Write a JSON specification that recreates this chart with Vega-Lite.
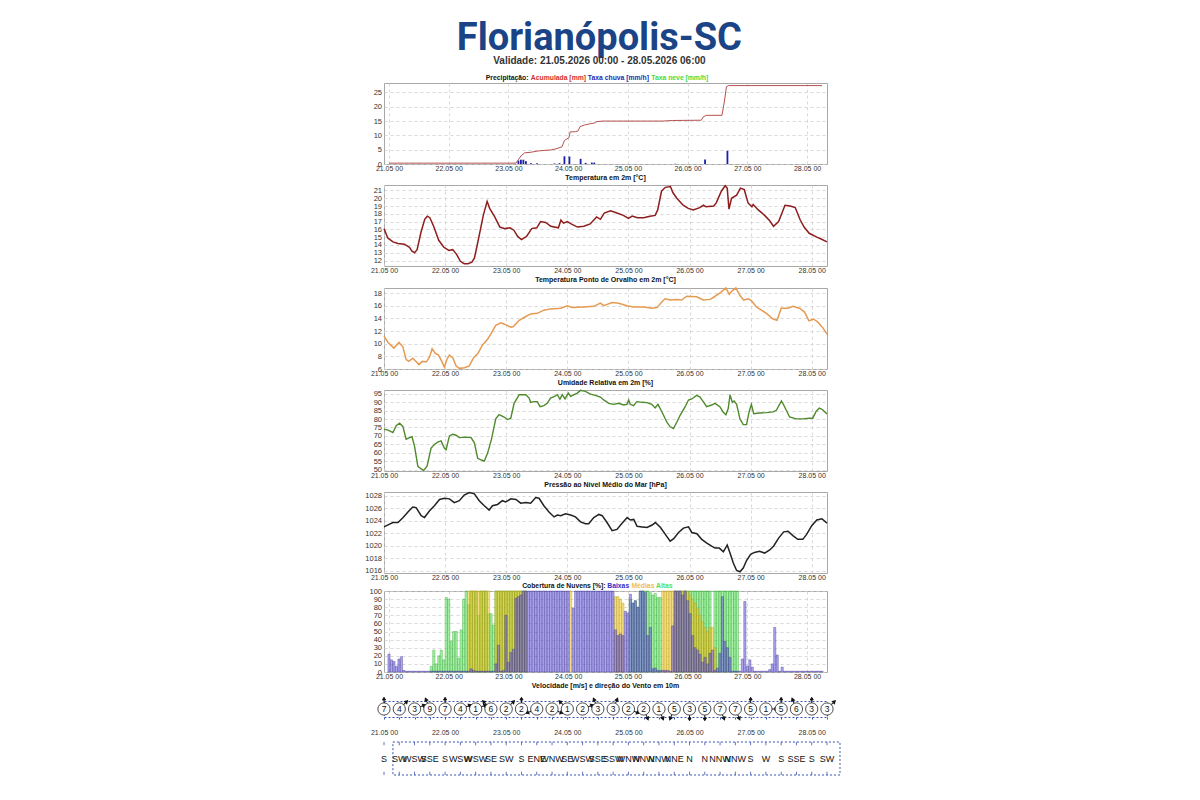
{
  "$schema": "https://vega.github.io/schema/vega-lite/v6.json",
  "background": "white",
  "padding": {"left": 364, "top": 20, "right": 5, "bottom": 5},
  "title": {"text": "Florianópolis-SC", "subtitle": "Validade: 21.05.2026 00:00 - 28.05.2026 06:00", "font": "Roboto", "fontSize": 38, "fontWeight": "bold", "color": "#1b4487", "anchor": "middle", "dx": -3, "subtitleFont": "Liberation Sans", "subtitleFontSize": 10, "subtitleFontWeight": "bold", "subtitleColor": "#333333", "subtitlePadding": -2.5, "offset": 9},
  "spacing": 1,
  "vconcat": [
    {
      "width": 443, "height": 81,
      "encoding": {
        "x": {"field": "h", "type": "quantitative", "title": null, "scale": {"domain": [0, 174], "nice": false, "zero": false}, "axis": {"values": [0, 24, 48, 72, 96, 120, 144, 168], "labelExpr": "(21 + datum.value/24) + '.05 00'", "labelFlush": false, "labelOverlap": false, "grid": true, "labelPadding": 0}},
        "y": {"field": "v", "type": "quantitative", "title": null, "scale": {"domain": [0, 28.3], "nice": false}, "axis": {"values": [0, 5, 10, 15, 20, 25], "labelOverlap": false}}
      },
      "layer": [
        {"data": {"name": "rain"}, "mark": {"type": "bar", "color": "#1a1fa8", "size": 1.8}},
        {"data": {"name": "acc"}, "mark": {"type": "line", "color": "#b85050", "strokeWidth": 1}},
        {"data": {"name": "acc"}, "transform": [{"filter": "datum.h == 0"}], "mark": {"type": "text", "align": "left", "baseline": "middle", "fontSize": 6.8, "fontWeight": "bold", "color": "#111111", "clip": false}, "encoding": {"x": {"datum": 38.9}, "y": {"datum": 30.0}, "text": {"value": "Precipitação:"}}},
        {"data": {"name": "acc"}, "transform": [{"filter": "datum.h == 0"}], "mark": {"type": "text", "align": "left", "baseline": "middle", "fontSize": 6.8, "fontWeight": "bold", "color": "#d03030", "clip": false}, "encoding": {"x": {"datum": 57.0}, "y": {"datum": 30.0}, "text": {"value": "Acumulada [mm]"}}},
        {"data": {"name": "acc"}, "transform": [{"filter": "datum.h == 0"}], "mark": {"type": "text", "align": "left", "baseline": "middle", "fontSize": 6.8, "fontWeight": "bold", "color": "#2a2ab0", "clip": false}, "encoding": {"x": {"datum": 79.9}, "y": {"datum": 30.0}, "text": {"value": "Taxa chuva [mm/h]"}}},
        {"data": {"name": "acc"}, "transform": [{"filter": "datum.h == 0"}], "mark": {"type": "text", "align": "left", "baseline": "middle", "fontSize": 6.8, "fontWeight": "bold", "color": "#44dd44", "clip": false}, "encoding": {"x": {"datum": 105.4}, "y": {"datum": 30.0}, "text": {"value": "Taxa neve [mm/h]"}}}
      ]
    },
    {
      "width": 443, "height": 81,
      "title": {"text": "Temperatura em 2m [°C]"},
      "data": {"name": "temp"},
      "mark": {"type": "line", "color": "#8e1d1d", "strokeWidth": 1.5},
      "encoding": {
        "x": {"field": "h", "type": "quantitative", "title": null, "scale": {"domain": [0, 174], "nice": false, "zero": false}, "axis": {"values": [0, 24, 48, 72, 96, 120, 144, 168], "labelExpr": "(21 + datum.value/24) + '.05 00'", "labelFlush": false, "labelOverlap": false, "grid": true, "labelPadding": 0}},
        "y": {"field": "v", "type": "quantitative", "title": null, "scale": {"domain": [11.3, 21.7], "nice": false, "zero": false}, "axis": {"values": [12, 13, 14, 15, 16, 17, 18, 19, 20, 21], "labelOverlap": false}}
      }
    },
    {
      "width": 443, "height": 81,
      "title": {"text": "Temperatura Ponto de Orvalho em 2m [°C]"},
      "data": {"name": "dew"},
      "mark": {"type": "line", "color": "#e69a52", "strokeWidth": 1.5},
      "encoding": {
        "x": {"field": "h", "type": "quantitative", "title": null, "scale": {"domain": [0, 174], "nice": false, "zero": false}, "axis": {"values": [0, 24, 48, 72, 96, 120, 144, 168], "labelExpr": "(21 + datum.value/24) + '.05 00'", "labelFlush": false, "labelOverlap": false, "grid": true, "labelPadding": 0}},
        "y": {"field": "v", "type": "quantitative", "title": null, "scale": {"domain": [6, 18.8], "nice": false, "zero": false}, "axis": {"values": [6, 8, 10, 12, 14, 16, 18], "labelOverlap": false}}
      }
    },
    {
      "width": 443, "height": 81,
      "title": {"text": "Umidade Relativa em 2m [%]"},
      "data": {"name": "rh"},
      "mark": {"type": "line", "color": "#4e8a2c", "strokeWidth": 1.4},
      "encoding": {
        "x": {"field": "h", "type": "quantitative", "title": null, "scale": {"domain": [0, 174], "nice": false, "zero": false}, "axis": {"values": [0, 24, 48, 72, 96, 120, 144, 168], "labelExpr": "(21 + datum.value/24) + '.05 00'", "labelFlush": false, "labelOverlap": false, "grid": true, "labelPadding": 0}},
        "y": {"field": "v", "type": "quantitative", "title": null, "scale": {"domain": [49.2, 97.2], "nice": false, "zero": false}, "axis": {"values": [50, 55, 60, 65, 70, 75, 80, 85, 90, 95], "labelOverlap": false}}
      }
    },
    {
      "width": 443, "height": 81,
      "title": {"text": "Pressão ao Nível Médio do Mar [hPa]"},
      "data": {"name": "pres"},
      "mark": {"type": "line", "color": "#222222", "strokeWidth": 1.5},
      "encoding": {
        "x": {"field": "h", "type": "quantitative", "title": null, "scale": {"domain": [0, 174], "nice": false, "zero": false}, "axis": {"values": [0, 24, 48, 72, 96, 120, 144, 168], "labelExpr": "(21 + datum.value/24) + '.05 00'", "labelFlush": false, "labelOverlap": false, "grid": true, "labelPadding": 0}},
        "y": {"field": "v", "type": "quantitative", "title": null, "scale": {"domain": [1015.6, 1028.6], "nice": false, "zero": false}, "axis": {"values": [1016, 1018, 1020, 1022, 1024, 1026, 1028], "format": "d", "labelOverlap": false}}
      }
    },
    {
      "width": 443, "height": 81,
      "encoding": {
        "x": {"field": "h", "type": "quantitative", "title": null, "scale": {"domain": [0, 174], "nice": false, "zero": false}, "axis": {"values": [0, 24, 48, 72, 96, 120, 144, 168], "labelExpr": "(21 + datum.value/24) + '.05 00'", "labelFlush": false, "labelOverlap": false, "grid": true, "labelPadding": 0}},
        "y": {"field": "v", "type": "quantitative", "title": null, "scale": {"domain": [0, 100], "nice": false}, "axis": {"values": [0, 10, 20, 30, 40, 50, 60, 70, 80, 90, 100], "labelOverlap": false}}
      },
      "layer": [
        {"data": {"name": "cloud"}, "transform": [{"fold": ["H", "M", "L"], "as": ["k", "v"]}, {"filter": "datum.k == 'H' && datum.v > 0"}], "mark": {"type": "bar", "size": 2.2, "fill": "#3ee03e", "fillOpacity": 0.45, "stroke": "#2fa82f", "strokeOpacity": 0.8, "strokeWidth": 0.5}},
        {"data": {"name": "cloud"}, "transform": [{"fold": ["H", "M", "L"], "as": ["k", "v"]}, {"filter": "datum.k == 'M' && datum.v > 0"}], "mark": {"type": "bar", "size": 2.2, "fill": "#f0c420", "fillOpacity": 0.55, "stroke": "#b89a10", "strokeOpacity": 0.8, "strokeWidth": 0.5}},
        {"data": {"name": "cloud"}, "transform": [{"fold": ["H", "M", "L"], "as": ["k", "v"]}, {"filter": "datum.k == 'L' && datum.v > 0"}], "mark": {"type": "bar", "size": 2.2, "fill": "#6a5ae0", "fillOpacity": 0.55, "stroke": "#3b3490", "strokeOpacity": 0.75, "strokeWidth": 0.5}},
        {"data": {"name": "acc"}, "transform": [{"filter": "datum.h == 0"}], "mark": {"type": "text", "align": "left", "baseline": "middle", "fontSize": 6.8, "fontWeight": "bold", "color": "#111111", "clip": false}, "encoding": {"x": {"datum": 53.5}, "y": {"datum": 106}, "text": {"value": "Cobertura de Nuvens [%]:"}}},
        {"data": {"name": "acc"}, "transform": [{"filter": "datum.h == 0"}], "mark": {"type": "text", "align": "left", "baseline": "middle", "fontSize": 6.8, "fontWeight": "bold", "color": "#3030c8", "clip": false}, "encoding": {"x": {"datum": 87.7}, "y": {"datum": 106}, "text": {"value": "Baixas"}}},
        {"data": {"name": "acc"}, "transform": [{"filter": "datum.h == 0"}], "mark": {"type": "text", "align": "left", "baseline": "middle", "fontSize": 6.8, "fontWeight": "bold", "color": "#f0c040", "clip": false}, "encoding": {"x": {"datum": 97.4}, "y": {"datum": 106}, "text": {"value": "Médias"}}},
        {"data": {"name": "acc"}, "transform": [{"filter": "datum.h == 0"}], "mark": {"type": "text", "align": "left", "baseline": "middle", "fontSize": 6.8, "fontWeight": "bold", "color": "#50e050", "clip": false}, "encoding": {"x": {"datum": 107.3}, "y": {"datum": 106}, "text": {"value": "Altas"}}}
      ]
    },
    {
      "width": 443, "height": 16,
      "title": {"text": "Velocidade [m/s] e direção do Vento em 10m", "offset": 6},
      "view": {"stroke": "#3a55b0", "strokeDash": [2, 2], "strokeWidth": 1},
      "data": {"name": "wind"},
      "encoding": {
        "x": {"field": "h", "type": "quantitative", "title": null, "scale": {"domain": [0, 174], "nice": false, "zero": false}, "axis": {"values": [0, 6, 12, 18, 24, 30, 36, 42, 48, 54, 60, 66, 72, 78, 84, 90, 96, 102, 108, 114, 120, 126, 132, 138, 144, 150, 156, 162, 168, 174], "labelExpr": "datum.value % 24 == 0 ? (21 + datum.value/24) + '.05 00' : ''", "labelFlush": false, "labelOverlap": false, "grid": false, "ticks": true, "tickSize": 2, "tickColor": "#3a55b0", "labelPadding": 9.5}}
      },
      "layer": [
        {"mark": {"type": "point", "shape": "M0,-0.55L0,-0.9M-0.14,-0.82L0,-1.06L0.14,-0.82Z", "size": 484, "filled": true, "fill": "#111111", "stroke": "#111111", "strokeWidth": 1, "opacity": 1, "clip": false}, "encoding": {"angle": {"field": "deg", "type": "quantitative", "scale": {"domain": [0, 360], "range": [180, 540]}, "legend": null}}},
        {"mark": {"type": "point", "shape": "circle", "size": 150, "filled": true, "fill": "white", "stroke": "#222222", "strokeWidth": 0.8, "opacity": 1, "clip": false}},
        {"mark": {"type": "text", "fontSize": 8.5, "color": "#111111", "baseline": "middle"}, "encoding": {"text": {"field": "s", "type": "nominal"}}}
      ]
    },
    {
      "width": 443, "height": 33,
      "title": {"text": " ", "fontSize": 4, "offset": 0.5},
      "view": {"stroke": null},
      "data": {"name": "wind"},
      "encoding": {
        "x": {"field": "h", "type": "quantitative", "title": null, "scale": {"domain": [0, 174], "nice": false, "zero": false}, "axis": null}
      },
      "layer": [
        {"transform": [{"filter": "datum.h == 0"}], "mark": {"type": "rect", "fill": null, "fillOpacity": 0, "stroke": "#3a55b0", "strokeDash": [2, 2], "strokeWidth": 1, "clip": false}, "encoding": {"x": {"datum": 3.5}, "x2": {"datum": 179.1}, "y": {"datum": 0, "type": "quantitative", "scale": {"domain": [0, 1], "nice": false}, "axis": null}, "y2": {"datum": 1}}},
        {"mark": {"type": "rule", "color": "#3a55b0", "strokeWidth": 0.8}, "encoding": {"y": {"datum": 0.9, "type": "quantitative", "axis": null}, "y2": {"datum": 1}}},
        {"mark": {"type": "rule", "color": "#3a55b0", "strokeWidth": 0.8}, "encoding": {"y": {"datum": 0, "type": "quantitative", "axis": null}, "y2": {"datum": 0.1}}},
        {"mark": {"type": "text", "fontSize": 9, "color": "#111111", "baseline": "middle", "clip": false}, "encoding": {"y": {"datum": 0.5, "type": "quantitative", "axis": null}, "text": {"field": "d", "type": "nominal"}}}
      ]
    }
  ],
  "datasets": {
    "rain": [{"h":52,"v":1.2},{"h":53,"v":1.5},{"h":54,"v":1.5},{"h":55,"v":1.0},{"h":57,"v":0.3},{"h":59.5,"v":0.3},{"h":66.5,"v":0.2},{"h":68.5,"v":0.3},{"h":70.5,"v":2.7},{"h":72.5,"v":2.6},{"h":77,"v":1.8},{"h":79,"v":0.4},{"h":81.5,"v":0.5},{"h":82.5,"v":0.5},{"h":115,"v":0.1},{"h":127,"v":1.6},{"h":136,"v":4.6}],
    "acc": [{"h":0,"v":0.3},{"h":51,"v":0.3},{"h":52,"v":1.5},{"h":53,"v":2.8},{"h":54.5,"v":3.9},{"h":57,"v":4.1},{"h":59.5,"v":4.5},{"h":61.5,"v":4.7},{"h":65,"v":4.9},{"h":67.5,"v":5.4},{"h":69.5,"v":6.0},{"h":70.5,"v":8.2},{"h":71.5,"v":8.8},{"h":72.3,"v":9.2},{"h":72.8,"v":11.2},{"h":75,"v":11.3},{"h":76,"v":11.6},{"h":76.8,"v":13.1},{"h":78.5,"v":13.6},{"h":81,"v":14.1},{"h":82.5,"v":14.3},{"h":83.5,"v":14.8},{"h":86,"v":15.0},{"h":110,"v":15.0},{"h":114,"v":15.2},{"h":125.5,"v":15.3},{"h":126.3,"v":16.5},{"h":127.5,"v":17.0},{"h":133.8,"v":17.0},{"h":134.8,"v":22.0},{"h":135.6,"v":27.0},{"h":136.5,"v":27.4},{"h":174,"v":27.4}],
    "temp": [{"h":0,"v":16.1},{"h":1.5,"v":14.9},{"h":3.5,"v":14.4},{"h":5.5,"v":14.2},{"h":8,"v":14.1},{"h":10,"v":13.7},{"h":11,"v":13.2},{"h":12,"v":13.0},{"h":13,"v":13.4},{"h":14.5,"v":15.6},{"h":16,"v":17.3},{"h":17,"v":17.7},{"h":18,"v":17.5},{"h":19.5,"v":16.4},{"h":21.5,"v":14.6},{"h":23.5,"v":13.7},{"h":25.5,"v":13.3},{"h":27,"v":13.4},{"h":28.5,"v":12.8},{"h":30,"v":11.9},{"h":31.5,"v":11.6},{"h":33,"v":11.6},{"h":34.5,"v":11.8},{"h":35.5,"v":12.3},{"h":36.5,"v":13.8},{"h":38,"v":16.2},{"h":39,"v":17.8},{"h":40.5,"v":19.6},{"h":41.5,"v":18.7},{"h":43.5,"v":17.6},{"h":45.5,"v":16.3},{"h":47.5,"v":16.1},{"h":49.5,"v":16.2},{"h":51,"v":15.9},{"h":52.5,"v":15.1},{"h":54,"v":14.7},{"h":56,"v":15.1},{"h":58,"v":16.1},{"h":60,"v":16.2},{"h":61.5,"v":17.0},{"h":63.5,"v":16.9},{"h":65.5,"v":16.4},{"h":68.5,"v":16.2},{"h":69.5,"v":17.2},{"h":70.5,"v":16.8},{"h":72,"v":17.0},{"h":73.5,"v":16.7},{"h":76,"v":16.3},{"h":78.5,"v":16.4},{"h":81,"v":16.7},{"h":83.5,"v":17.6},{"h":85,"v":17.3},{"h":86.5,"v":18.1},{"h":89,"v":18.4},{"h":91.5,"v":18.1},{"h":94,"v":17.8},{"h":96,"v":17.4},{"h":97.5,"v":17.7},{"h":99.5,"v":17.5},{"h":102,"v":17.5},{"h":104.5,"v":17.7},{"h":106.5,"v":17.8},{"h":107.5,"v":18.5},{"h":109,"v":20.9},{"h":110.5,"v":21.4},{"h":112.5,"v":21.5},{"h":113.5,"v":20.7},{"h":115,"v":20.0},{"h":117.5,"v":19.1},{"h":119.5,"v":18.7},{"h":121.5,"v":18.5},{"h":124,"v":18.8},{"h":125.5,"v":19.1},{"h":126.5,"v":18.9},{"h":129.5,"v":19.0},{"h":130.5,"v":19.4},{"h":132.5,"v":20.9},{"h":134,"v":21.6},{"h":134.8,"v":21.3},{"h":135.5,"v":18.6},{"h":136.5,"v":20.0},{"h":138.5,"v":20.4},{"h":140,"v":21.3},{"h":141.5,"v":21.1},{"h":143,"v":19.4},{"h":144.5,"v":18.9},{"h":145,"v":19.2},{"h":147,"v":18.5},{"h":149.5,"v":17.8},{"h":151.5,"v":17.1},{"h":153,"v":16.4},{"h":155,"v":17.0},{"h":157.5,"v":19.1},{"h":159.5,"v":19.0},{"h":161.5,"v":18.8},{"h":163.5,"v":17.2},{"h":165,"v":16.3},{"h":167,"v":15.5},{"h":170,"v":15.0},{"h":171.5,"v":14.8},{"h":174,"v":14.4}],
    "dew": [{"h":0,"v":11.2},{"h":1.6,"v":10.2},{"h":3.9,"v":9.3},{"h":5.9,"v":10.2},{"h":7.4,"v":9.5},{"h":8.7,"v":7.5},{"h":9.8,"v":7.2},{"h":11.3,"v":7.7},{"h":12.6,"v":7.2},{"h":13.7,"v":6.7},{"h":15,"v":7.2},{"h":16.6,"v":7.1},{"h":17.9,"v":7.9},{"h":18.9,"v":9.2},{"h":20.1,"v":8.5},{"h":21.4,"v":8.2},{"h":22.7,"v":7.2},{"h":23.7,"v":6.3},{"h":24.8,"v":7.6},{"h":25.7,"v":8.2},{"h":27,"v":7.8},{"h":28.3,"v":6.5},{"h":29.6,"v":6.1},{"h":31.6,"v":6.2},{"h":33.5,"v":6.5},{"h":35.2,"v":7.8},{"h":36.8,"v":8.4},{"h":38.7,"v":9.8},{"h":40.7,"v":10.7},{"h":42.2,"v":11.7},{"h":43.9,"v":12.9},{"h":45.9,"v":13.3},{"h":47.8,"v":13.0},{"h":49.8,"v":12.6},{"h":50.8,"v":12.7},{"h":53.1,"v":13.7},{"h":55.7,"v":14.3},{"h":57.6,"v":14.7},{"h":60.2,"v":14.8},{"h":62.8,"v":15.3},{"h":65.4,"v":15.5},{"h":69.4,"v":15.6},{"h":72,"v":16.0},{"h":73.9,"v":15.7},{"h":78.5,"v":15.8},{"h":82.4,"v":15.9},{"h":85,"v":16.4},{"h":86.3,"v":16.0},{"h":89.6,"v":16.5},{"h":92.2,"v":16.4},{"h":95.4,"v":16.0},{"h":98,"v":15.8},{"h":102,"v":15.8},{"h":105.2,"v":15.6},{"h":107.2,"v":15.7},{"h":109.1,"v":16.6},{"h":110.4,"v":17.1},{"h":112.4,"v":16.9},{"h":115,"v":17.0},{"h":116.9,"v":16.9},{"h":118.9,"v":17.5},{"h":122.8,"v":17.4},{"h":125.4,"v":16.9},{"h":128,"v":17.0},{"h":129.3,"v":17.3},{"h":131.9,"v":18.0},{"h":134.3,"v":18.8},{"h":135.6,"v":17.8},{"h":136.9,"v":18.4},{"h":138.2,"v":18.8},{"h":139.8,"v":17.6},{"h":141.3,"v":16.9},{"h":143,"v":17.1},{"h":144.3,"v":16.8},{"h":146.3,"v":15.8},{"h":150.2,"v":14.8},{"h":152.8,"v":13.9},{"h":154.4,"v":13.7},{"h":156,"v":15.6},{"h":158.7,"v":15.6},{"h":160.6,"v":15.9},{"h":163.2,"v":15.6},{"h":165.2,"v":15.0},{"h":166.9,"v":13.6},{"h":168.7,"v":13.9},{"h":170.4,"v":13.4},{"h":172.4,"v":12.5},{"h":174,"v":11.5}],
    "rh": [{"h":0,"v":74.0},{"h":1.6,"v":73.4},{"h":3.5,"v":72},{"h":4.8,"v":76},{"h":6.1,"v":77.5},{"h":7.4,"v":75.6},{"h":8.7,"v":68},{"h":10,"v":69},{"h":11,"v":69.5},{"h":12,"v":63.8},{"h":13.3,"v":52},{"h":14.6,"v":50.4},{"h":15.6,"v":49.6},{"h":16.9,"v":52},{"h":18.5,"v":62.8},{"h":19.8,"v":64.9},{"h":21.1,"v":66.3},{"h":22.4,"v":67},{"h":23.7,"v":62.8},{"h":24.4,"v":61.8},{"h":25.7,"v":70},{"h":27,"v":71},{"h":28.3,"v":70.4},{"h":29.6,"v":69},{"h":32.2,"v":69.3},{"h":34.2,"v":69},{"h":35.5,"v":65.9},{"h":36.8,"v":56.7},{"h":38.3,"v":55.7},{"h":39.4,"v":55.1},{"h":40.7,"v":59.8},{"h":42.2,"v":67.9},{"h":43.9,"v":80.1},{"h":45.2,"v":82.6},{"h":47.2,"v":81.2},{"h":48.5,"v":79.7},{"h":49.8,"v":80.5},{"h":51.1,"v":89.3},{"h":53.1,"v":94.4},{"h":55.7,"v":94.4},{"h":57,"v":92.4},{"h":57.6,"v":89.9},{"h":58.9,"v":90.3},{"h":60.2,"v":90.3},{"h":61.3,"v":87.3},{"h":62.8,"v":87.9},{"h":64.1,"v":89.3},{"h":65.4,"v":92.4},{"h":67,"v":93.4},{"h":68.1,"v":94.4},{"h":69.1,"v":91.7},{"h":70,"v":94.4},{"h":71.1,"v":91.9},{"h":72.4,"v":95.4},{"h":73.3,"v":93.4},{"h":75.9,"v":95.4},{"h":77.2,"v":97},{"h":79.1,"v":96.4},{"h":81.1,"v":94.8},{"h":83,"v":94},{"h":85,"v":93},{"h":86.3,"v":91.3},{"h":88.3,"v":89.3},{"h":90.2,"v":88.7},{"h":92.2,"v":89.3},{"h":94.1,"v":88.3},{"h":95.4,"v":88.7},{"h":96.1,"v":91.3},{"h":96.7,"v":88.7},{"h":98,"v":87.9},{"h":99.3,"v":90.3},{"h":101.3,"v":89.9},{"h":103.3,"v":89.7},{"h":105.2,"v":88.7},{"h":106.5,"v":86.6},{"h":107.6,"v":88.7},{"h":108.5,"v":86.2},{"h":109.8,"v":82.2},{"h":111.1,"v":78.1},{"h":112.4,"v":75.4},{"h":113.7,"v":74.4},{"h":115,"v":78.1},{"h":116.3,"v":82.2},{"h":118.3,"v":87.3},{"h":119.6,"v":91.3},{"h":120.9,"v":91.9},{"h":122.8,"v":94},{"h":124.1,"v":93},{"h":125.4,"v":90.3},{"h":126.7,"v":87.3},{"h":128.7,"v":88.3},{"h":130,"v":89.3},{"h":131.9,"v":87.3},{"h":133.2,"v":84.2},{"h":134.3,"v":82.6},{"h":135.2,"v":86.2},{"h":135.9,"v":94.4},{"h":136.8,"v":89.9},{"h":137.5,"v":90.7},{"h":138.5,"v":88.7},{"h":139.8,"v":80.1},{"h":141.1,"v":76.7},{"h":142.4,"v":76.7},{"h":143.4,"v":84.2},{"h":144.3,"v":88.7},{"h":145.2,"v":83.2},{"h":147.6,"v":83.6},{"h":150.2,"v":83.8},{"h":152.8,"v":84.2},{"h":154.1,"v":85.2},{"h":156.1,"v":90.7},{"h":157,"v":88.3},{"h":159.3,"v":81.2},{"h":161.9,"v":80.1},{"h":164.5,"v":80.1},{"h":167.1,"v":80.5},{"h":168.4,"v":80.5},{"h":169.7,"v":84.5},{"h":171,"v":86.5},{"h":172.3,"v":85.5},{"h":174,"v":83}],
    "pres": [{"h":0,"v":1023.0},{"h":2,"v":1023.4},{"h":3.5,"v":1023.7},{"h":5.5,"v":1023.7},{"h":7.5,"v":1024.5},{"h":9.4,"v":1025.4},{"h":11.3,"v":1026.2},{"h":12.6,"v":1026.1},{"h":14.6,"v":1024.8},{"h":15.9,"v":1024.5},{"h":17.9,"v":1025.6},{"h":19.8,"v":1026.4},{"h":21.8,"v":1027.4},{"h":23.7,"v":1027.6},{"h":25.7,"v":1027.5},{"h":27.6,"v":1026.9},{"h":29.6,"v":1027.2},{"h":31.5,"v":1028.1},{"h":33.5,"v":1028.5},{"h":35.5,"v":1028.3},{"h":37.4,"v":1027.2},{"h":39.4,"v":1026.4},{"h":41.3,"v":1025.7},{"h":42.6,"v":1026.4},{"h":44.6,"v":1026.6},{"h":46.5,"v":1027.2},{"h":47.8,"v":1027.0},{"h":49.8,"v":1027.5},{"h":51.8,"v":1027.4},{"h":53.7,"v":1026.8},{"h":55.7,"v":1026.9},{"h":57.6,"v":1026.8},{"h":59.6,"v":1027.7},{"h":60.9,"v":1027.6},{"h":62.8,"v":1026.4},{"h":64.8,"v":1025.4},{"h":66.8,"v":1024.6},{"h":68.1,"v":1024.9},{"h":69.4,"v":1024.8},{"h":71.3,"v":1025.1},{"h":73.3,"v":1024.9},{"h":75.2,"v":1024.6},{"h":77.2,"v":1023.8},{"h":79.1,"v":1023.5},{"h":80.4,"v":1023.5},{"h":82.4,"v":1024.5},{"h":84.4,"v":1025.0},{"h":85.7,"v":1024.8},{"h":87.6,"v":1023.7},{"h":89.6,"v":1022.4},{"h":91.5,"v":1022.6},{"h":93.5,"v":1023.6},{"h":95.5,"v":1024.5},{"h":96.8,"v":1024.1},{"h":98.1,"v":1024.2},{"h":99.4,"v":1023.1},{"h":101.4,"v":1023.0},{"h":103.3,"v":1022.9},{"h":105.3,"v":1023.3},{"h":106.6,"v":1023.7},{"h":108.6,"v":1022.9},{"h":110.5,"v":1021.8},{"h":112.4,"v":1020.7},{"h":113.8,"v":1021.1},{"h":115.7,"v":1022.1},{"h":117.6,"v":1022.8},{"h":119.6,"v":1023.0},{"h":120.9,"v":1022.1},{"h":122.9,"v":1021.9},{"h":124.8,"v":1021.0},{"h":126.8,"v":1020.4},{"h":128.7,"v":1019.9},{"h":130,"v":1019.6},{"h":131.7,"v":1019.6},{"h":133.3,"v":1019.0},{"h":134.8,"v":1020.1},{"h":135.9,"v":1018.8},{"h":137.2,"v":1017.2},{"h":138.5,"v":1016.0},{"h":139.8,"v":1015.8},{"h":141.1,"v":1016.4},{"h":142.4,"v":1017.6},{"h":144,"v":1018.6},{"h":145.5,"v":1018.9},{"h":147.5,"v":1019.1},{"h":149.5,"v":1018.8},{"h":151.5,"v":1019.3},{"h":153,"v":1019.9},{"h":155,"v":1021.2},{"h":157,"v":1022.2},{"h":158.7,"v":1022.3},{"h":160.6,"v":1021.6},{"h":162.5,"v":1021.0},{"h":164.5,"v":1021.0},{"h":166,"v":1021.8},{"h":168,"v":1023.2},{"h":170,"v":1024.1},{"h":172,"v":1024.3},{"h":174,"v":1023.6}],
    "cloud": [
      {"h":0,"L":22,"M":0,"H":0},{"h":1,"L":15,"M":0,"H":0},{"h":2,"L":13,"M":0,"H":0},{"h":3,"L":7,"M":0,"H":0},{"h":4,"L":16,"M":0,"H":0},{"h":5,"L":19,"M":0,"H":0},{"h":6,"L":2,"M":0,"H":0},{"h":7,"L":1,"M":0,"H":0},{"h":8,"L":1,"M":0,"H":0},{"h":9,"L":1,"M":0,"H":0},
      {"h":10,"L":1,"M":0,"H":0},{"h":11,"L":1,"M":0,"H":0},{"h":12,"L":1,"M":0,"H":0},{"h":13,"L":1,"M":0,"H":0},{"h":14,"L":1,"M":0,"H":0},{"h":15,"L":1,"M":0,"H":0},{"h":16,"L":1,"M":0,"H":0},{"h":17,"L":1,"M":0,"H":7},{"h":18,"L":1,"M":0,"H":27},{"h":19,"L":1,"M":0,"H":10},
      {"h":20,"L":1,"M":0,"H":20},{"h":21,"L":1,"M":0,"H":27},{"h":22,"L":1,"M":0,"H":15},{"h":23,"L":1,"M":0,"H":92},{"h":24,"L":1,"M":0,"H":90},{"h":25,"L":1,"M":0,"H":38},{"h":26,"L":1,"M":0,"H":50},{"h":27,"L":1,"M":0,"H":50},{"h":28,"L":1,"M":0,"H":17},{"h":29,"L":1,"M":0,"H":52},
      {"h":30,"L":1,"M":0,"H":90},{"h":31,"L":1,"M":0,"H":100},{"h":32,"L":1,"M":100,"H":83},{"h":33,"L":4,"M":100,"H":100},{"h":34,"L":2,"M":100,"H":100},{"h":35,"L":1,"M":100,"H":100},{"h":36,"L":1,"M":100,"H":70},{"h":37,"L":1,"M":100,"H":100},{"h":38,"L":1,"M":100,"H":100},{"h":39,"L":1,"M":100,"H":100},
      {"h":40,"L":1,"M":100,"H":72},{"h":41,"L":1,"M":0,"H":72},{"h":42,"L":1,"M":0,"H":58},{"h":43,"L":10,"M":100,"H":100},{"h":44,"L":33,"M":100,"H":100},{"h":45,"L":1,"M":100,"H":100},{"h":46,"L":2,"M":100,"H":100},{"h":47,"L":70,"M":100,"H":100},{"h":48,"L":12,"M":100,"H":100},{"h":49,"L":24,"M":100,"H":100},
      {"h":50,"L":28,"M":100,"H":100},{"h":51,"L":91,"M":100,"H":100},{"h":52,"L":93,"M":100,"H":100},{"h":53,"L":95,"M":100,"H":100},{"h":54,"L":100,"M":100,"H":100},{"h":55,"L":100,"M":100,"H":100},{"h":56,"L":100,"M":0,"H":0},{"h":57,"L":100,"M":0,"H":0},{"h":58,"L":100,"M":0,"H":0},{"h":59,"L":100,"M":0,"H":0},
      {"h":60,"L":100,"M":0,"H":0},{"h":61,"L":100,"M":0,"H":0},{"h":62,"L":100,"M":0,"H":0},{"h":63,"L":100,"M":0,"H":0},{"h":64,"L":100,"M":0,"H":0},{"h":65,"L":100,"M":0,"H":0},{"h":66,"L":100,"M":0,"H":0},{"h":67,"L":100,"M":0,"H":0},{"h":68,"L":100,"M":0,"H":0},{"h":69,"L":100,"M":0,"H":0},
      {"h":70,"L":100,"M":0,"H":0},{"h":71,"L":100,"M":0,"H":0},{"h":72,"L":100,"M":0,"H":0},{"h":73,"L":0,"M":100,"H":0},{"h":74,"L":79,"M":0,"H":0},{"h":75,"L":100,"M":0,"H":0},{"h":76,"L":100,"M":0,"H":0},{"h":77,"L":100,"M":0,"H":0},{"h":78,"L":100,"M":0,"H":0},{"h":79,"L":100,"M":0,"H":0},
      {"h":80,"L":100,"M":0,"H":0},{"h":81,"L":100,"M":0,"H":0},{"h":82,"L":100,"M":0,"H":0},{"h":83,"L":100,"M":0,"H":0},{"h":84,"L":100,"M":0,"H":0},{"h":85,"L":100,"M":0,"H":0},{"h":86,"L":100,"M":0,"H":0},{"h":87,"L":100,"M":0,"H":0},{"h":88,"L":100,"M":0,"H":0},{"h":89,"L":100,"M":0,"H":0},
      {"h":90,"L":100,"M":0,"H":0},{"h":91,"L":52,"M":93,"H":0},{"h":92,"L":45,"M":93,"H":0},{"h":93,"L":47,"M":90,"H":0},{"h":94,"L":45,"M":85,"H":0},{"h":95,"L":75,"M":0,"H":0},{"h":96,"L":73,"M":0,"H":0},{"h":97,"L":96,"M":0,"H":90},{"h":98,"L":85,"M":0,"H":85},{"h":99,"L":88,"M":0,"H":88},
      {"h":100,"L":80,"M":0,"H":80},{"h":101,"L":100,"M":0,"H":100},{"h":102,"L":100,"M":0,"H":100},{"h":103,"L":98,"M":0,"H":100},{"h":104,"L":45,"M":0,"H":100},{"h":105,"L":55,"M":0,"H":98},{"h":106,"L":4,"M":0,"H":95},{"h":107,"L":5,"M":0,"H":97},{"h":108,"L":2,"M":0,"H":92},{"h":109,"L":2,"M":0,"H":92},
      {"h":110,"L":2,"M":100,"H":0},{"h":111,"L":2,"M":100,"H":0},{"h":112,"L":2,"M":100,"H":0},{"h":113,"L":1,"M":100,"H":0},{"h":114,"L":57,"M":100,"H":0},{"h":115,"L":100,"M":100,"H":100},{"h":116,"L":100,"M":100,"H":100},{"h":117,"L":100,"M":100,"H":100},{"h":118,"L":95,"M":100,"H":100},{"h":119,"L":100,"M":100,"H":100},
      {"h":120,"L":88,"M":100,"H":100},{"h":121,"L":72,"M":95,"H":100},{"h":122,"L":45,"M":90,"H":100},{"h":123,"L":30,"M":85,"H":100},{"h":124,"L":27,"M":78,"H":100},{"h":125,"L":22,"M":70,"H":100},{"h":126,"L":12,"M":62,"H":100},{"h":127,"L":18,"M":55,"H":100},{"h":128,"L":10,"M":50,"H":100},{"h":129,"L":23,"M":55,"H":100},
      {"h":130,"L":27,"M":55,"H":0},{"h":131,"L":2,"M":30,"H":100},{"h":132,"L":5,"M":0,"H":100},{"h":133,"L":23,"M":0,"H":100},{"h":134,"L":93,"M":0,"H":100},{"h":135,"L":38,"M":0,"H":100},{"h":136,"L":30,"M":0,"H":100},{"h":137,"L":18,"M":0,"H":100},{"h":138,"L":1,"M":0,"H":100},{"h":139,"L":1,"M":0,"H":100},
      {"h":140,"L":1,"M":0,"H":100},{"h":141,"L":1,"M":0,"H":0},{"h":142,"L":16,"M":0,"H":0},{"h":143,"L":87,"M":0,"H":0},{"h":144,"L":7,"M":0,"H":0},{"h":145,"L":15,"M":0,"H":0},{"h":146,"L":6,"M":0,"H":0},{"h":147,"L":1,"M":0,"H":0},{"h":148,"L":1,"M":0,"H":0},{"h":149,"L":1,"M":0,"H":0},
      {"h":150,"L":1,"M":0,"H":0},{"h":151,"L":1,"M":0,"H":0},{"h":152,"L":1,"M":0,"H":0},{"h":153,"L":3,"M":0,"H":0},{"h":154,"L":10,"M":0,"H":0},{"h":155,"L":55,"M":0,"H":0},{"h":156,"L":21,"M":0,"H":0},{"h":157,"L":1,"M":0,"H":0},{"h":158,"L":6,"M":0,"H":0},{"h":159,"L":1,"M":0,"H":0},
      {"h":160,"L":1,"M":0,"H":0},{"h":161,"L":1,"M":0,"H":0},{"h":162,"L":1,"M":0,"H":0},{"h":163,"L":1,"M":0,"H":0},{"h":164,"L":1,"M":0,"H":0},{"h":165,"L":1,"M":0,"H":0},{"h":166,"L":1,"M":0,"H":0},{"h":167,"L":1,"M":0,"H":0},{"h":168,"L":1,"M":0,"H":0},{"h":169,"L":1,"M":0,"H":0},
      {"h":170,"L":1,"M":0,"H":0},{"h":171,"L":1,"M":0,"H":0},{"h":172,"L":1,"M":0,"H":0},{"h":173,"L":1,"M":0,"H":0},{"h":174,"L":1,"M":0,"H":0}
    ],
    "wind": [
      {"h":0,"s":7,"d":"S","deg":180},{"h":6,"s":4,"d":"SW","deg":225},{"h":12,"s":3,"d":"WSW","deg":247.5},{"h":18,"s":9,"d":"SSE","deg":157.5},{"h":24,"s":7,"d":"S","deg":180},
      {"h":30,"s":4,"d":"WSW","deg":247.5},{"h":36,"s":1,"d":"WSW","deg":247.5},{"h":42,"s":6,"d":"SE","deg":135},{"h":48,"s":2,"d":"SW","deg":225},{"h":54,"s":2,"d":"S","deg":180},
      {"h":60,"s":4,"d":"ENE","deg":67.5},{"h":66,"s":2,"d":"WNW","deg":292.5},{"h":72,"s":1,"d":"SE","deg":135},{"h":78,"s":2,"d":"WSW","deg":247.5},{"h":84,"s":3,"d":"SSE","deg":157.5},
      {"h":90,"s":3,"d":"SSW","deg":202.5},{"h":96,"s":2,"d":"WNW","deg":292.5},{"h":102,"s":2,"d":"NNW","deg":337.5},{"h":108,"s":1,"d":"NNW","deg":337.5},{"h":114,"s":5,"d":"NNE","deg":22.5},
      {"h":120,"s":3,"d":"N","deg":0},{"h":126,"s":5,"d":"N","deg":0},{"h":132,"s":7,"d":"NNW","deg":337.5},{"h":138,"s":7,"d":"NNW","deg":337.5},{"h":144,"s":5,"d":"S","deg":180},
      {"h":150,"s":1,"d":"W","deg":270},{"h":156,"s":5,"d":"S","deg":180},{"h":162,"s":6,"d":"SSE","deg":157.5},{"h":168,"s":3,"d":"S","deg":180},{"h":174,"s":3,"d":"SW","deg":225}
    ]
  },
  "config": {
    "font": "Liberation Sans",
    "view": {"stroke": "#a8a8a8", "strokeWidth": 1},
    "axis": {"labelFont": "Liberation Sans", "labelFontSize": 7, "labelColor": "#333333", "ticks": false, "domain": false, "gridColor": "#cfcfcf", "gridDash": [3, 3], "gridWidth": 0.8, "labelPadding": 2},
    "axisY": {"labelFontSize": 7.5, "labelPadding": 2.5},
    "title": {"font": "Liberation Sans", "fontSize": 7, "fontWeight": "bold", "color": "#111111", "offset": 2}
  }
}
